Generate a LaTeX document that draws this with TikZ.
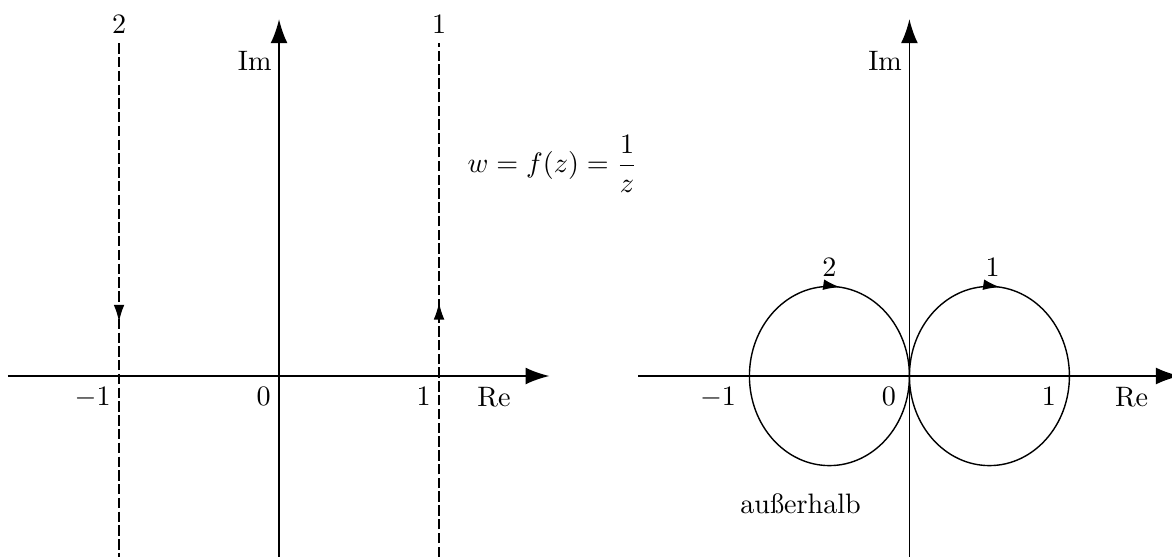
\documentclass[tikz,border=0pt]{standalone}
\usepackage{amsmath}
\usepackage{tikz}
\usetikzlibrary{positioning,arrows.meta,decorations.markings,calc}

\tikzset{
  axisline/.style={line width=0.6pt, -{Latex[length=8.5pt,width=6pt]}},
  dashline/.style={line width=0.45pt, dash pattern=on 3.7pt off 1.2pt},
  ticklabel/.style={anchor=north east, inner sep=2.8pt, yshift=-1pt},
  midarrow/.style={postaction={decorate},
    decoration={markings, mark=at position #1 with {\arrow{Latex[length=6pt,width=3.8pt]}}}},
}

\begin{document}
\begin{tikzpicture}[scale=2]
  % page frame: 1 unit = 2cm, origin of the z-plane
  \useasboundingbox (-1.744,-1.131) rectangle (5.581,2.35);

  % z-plane axes
  \draw[axisline] (-1.694,0) -- (1.69,0);
  \draw[axisline] (0,-1.131) -- (0,2.23);
  \node[anchor=north east, inner sep=2.8pt, yshift=-1pt] (rez) at (1.5,0) {Re};
  \node[anchor=east, inner sep=2.5pt] (imz) at (0,1.97) {Im};
  \foreach \x/\lab/\nm in {-1/$-1$/a, 0/$0$/b, 1/$1$/c}
    \node[ticklabel] (tz\nm) at (\x,0) {\lab};

  % the lines Re z = 1 and Re z = -1
  \draw[dashline, midarrow=0.495] (1,-1.131) -- (1,2.08);
  \node[above] (linea) at (1,2.08) {1};
  \draw[dashline, midarrow=0.542] (-1,2.08) -- (-1,-1.131);
  \node[above] (lineb) at (-1,2.08) {2};

  % the mapping
  \node (map) at (1.71,1.325) {$w = f(z) = \dfrac{1}{z}$};

  % w-plane
  \begin{scope}[shift={(3.94,0)}]
    \draw[axisline] (-1.696,0) -- (1.69,0);
    \draw[axisline] (0,-1.131) -- (0,2.23);
    \node[anchor=north east, inner sep=2.8pt, yshift=-1pt] (rew) at (1.545,0) {Re};
    \node[anchor=east, inner sep=2.5pt] (imw) at (0,1.97) {Im};
    \foreach \x/\lab/\nm in {-1/$-1$/a, 0/$0$/b, 1/$1$/c}
      \node[ticklabel, xshift=-1.8pt] (tw\nm) at (\x,0) {\lab};

    % images of the two lines (clockwise)
    \draw[line width=0.5pt, midarrow=0.27]
      (0,0) arc[start angle=180, end angle=-180, x radius=0.5, y radius=0.56];
    \draw[line width=0.5pt, midarrow=0.27]
      (-1,0) arc[start angle=180, end angle=-180, x radius=0.5, y radius=0.56];
    \node[above] (circa) at (0.52,0.56) {1};
    \node[above] (circb) at (-0.5,0.56) {2};

    \node (outside) at (-0.68,-0.8) {außerhalb};
  \end{scope}
\end{tikzpicture}
\end{document}
